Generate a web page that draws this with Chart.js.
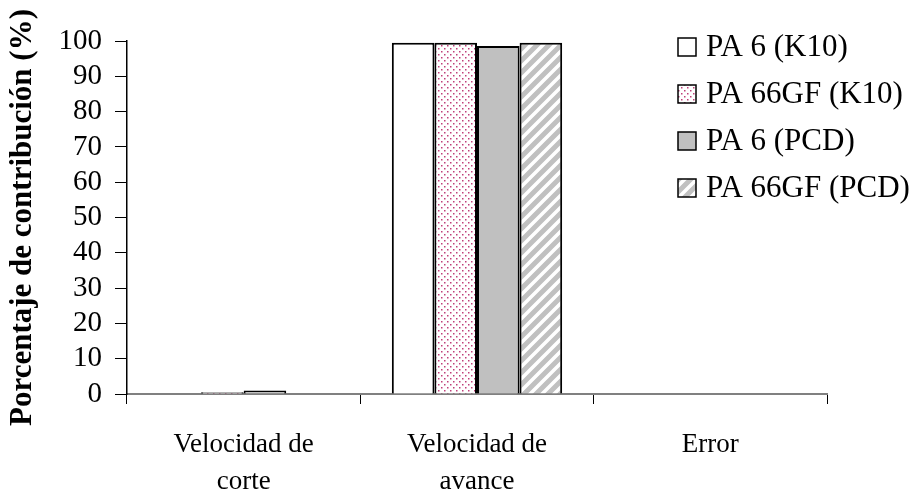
<!DOCTYPE html>
<html lang="es">
<head>
<meta charset="UTF-8">
<title>Porcentaje de contribución</title>
<script src="https://cdn.jsdelivr.net/npm/chart.js@4.4.1/dist/chart.umd.min.js"></script>
<style>
  body { margin: 0; background: #fff; }
  #wrap { width: 916px; height: 497px; }
</style>
</head>
<body>
<div id="wrap"><canvas id="myChart" width="916" height="497"></canvas></div>
<script>
    // data
    var categories = [['Velocidad de', 'corte'], ['Velocidad de', 'avance'], 'Error'];
    var seriesNames = ['PA 6 (K10)', 'PA 66GF (K10)', 'PA 6 (PCD)', 'PA 66GF (PCD)'];
    var pa6K10 = [0, 99.5, 0];
    var pa66K10 = [0.5, 99.5, 0];
    var pa6PCD = [1.0, 98.6, 0];
    var pa66PCD = [0, 99.5, 0];

    var FONT = '"Liberation Serif", "Times New Roman", serif';

    function dotPattern() {
        var c = document.createElement('canvas');
        c.width = 6; c.height = 6;
        var g = c.getContext('2d');
        g.fillStyle = '#fff';
        g.fillRect(0, 0, 6, 6);
        g.fillStyle = '#c0407a';
        g.fillRect(0, 0, 1.5, 1.5);
        g.fillRect(3, 3, 1.5, 1.5);
        return g.createPattern(c, 'repeat');
    }

    function stripePattern() {
        var c = document.createElement('canvas');
        c.width = 12; c.height = 12;
        var g = c.getContext('2d');
        g.fillStyle = '#c0c0c0';
        g.fillRect(0, 0, 12, 12);
        g.strokeStyle = '#ffffff';
        g.lineWidth = 3.5;
        g.beginPath();
        g.moveTo(-2, 14); g.lineTo(14, -2);
        g.moveTo(-8, 8); g.lineTo(8, -8);
        g.moveTo(4, 20); g.lineTo(20, 4);
        g.stroke();
        return g.createPattern(c, 'repeat');
    }

    var fills = ['#ffffff', dotPattern(), '#c0c0c0', stripePattern()];
    var values = [pa6K10, pa66K10, pa6PCD, pa66PCD];

    var datasets = seriesNames.map(function (name, i) {
        return {
            label: name,
            data: values[i],
            backgroundColor: fills[i],
            borderColor: '#000',
            borderWidth: 2,
            categoryPercentage: 0.73,
            barPercentage: 1.0
        };
    });

    // legend drawn on top of the plot, like the original
    var legendPlugin = {
        id: 'sideLegend',
        afterDraw: function (chart) {
            var ctx = chart.ctx;
            ctx.save();
            ctx.font = '31px ' + FONT;
            ctx.textBaseline = 'middle';
            chart.data.datasets.forEach(function (ds, i) {
                var y = 47 + i * 47;
                ctx.fillStyle = ds.backgroundColor;
                ctx.fillRect(678, y - 9, 18, 18);
                ctx.strokeStyle = '#000';
                ctx.lineWidth = 1.5;
                ctx.strokeRect(678, y - 9, 18, 18);
                ctx.fillStyle = '#000';
                ctx.fillText(ds.label, 706, y + 1);
            });
            ctx.restore();
        }
    };

    var ctx = document.getElementById('myChart').getContext('2d');
    var chart = new Chart(ctx, {
        type: 'bar',
        data: { labels: categories, datasets: datasets },
        options: {
            responsive: false,
            animation: false,
            layout: { padding: { top: 41, right: 89, left: 4, bottom: 0 } },
            plugins: { legend: { display: false }, tooltip: { enabled: false } },
            scales: {
                x: {
                    afterFit: function (scale) { scale.height = 103; },
                    grid: { offset: true, drawOnChartArea: false, color: '#000', tickLength: 10, tickWidth: 1 },
                    border: { color: '#808080', width: 2 },
                    ticks: { color: '#000', font: { family: FONT, size: 27, lineHeight: 1.37 }, padding: 22, maxRotation: 0 }
                },
                y: {
                    min: 0, max: 100,
                    afterFit: function (scale) { scale.width = 123; },
                    grid: { drawOnChartArea: false, color: '#000', tickLength: 12 },
                    border: { color: '#000', width: 1.5 },
                    ticks: { stepSize: 10, autoSkip: false, color: '#000', font: { family: FONT, size: 29 }, padding: 13 },
                    title: {
                        display: true,
                        text: 'Porcentaje de contribución (%)',
                        color: '#000',
                        font: { family: FONT, size: 31, weight: 'bold' },
                        padding: 0
                    }
                }
            }
        },
        plugins: [legendPlugin]
    });
</script>
</body>
</html>
